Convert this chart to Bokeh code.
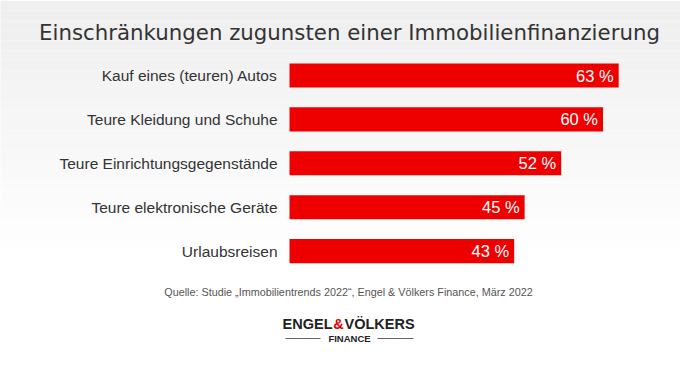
from bokeh.plotting import figure
from bokeh.models import Range1d, Label, BoxAnnotation, ColumnDataSource
from bokeh.core.properties import value
from bokeh.embed import file_html
from bokeh.resources import INLINE

# ---- data ----
categories = ["Kauf eines (teuren) Autos", "Teure Kleidung und Schuhe",
              "Teure Einrichtungsgegenstände", "Teure elektronische Geräte",
              "Urlaubsreisen"]
values = [63, 60, 52, 45, 43]
value_labels = [f"{v} %" for v in values]
positions = list(range(len(categories)))

title = "Einschränkungen zugunsten einer Immobilienfinanzierung"
source_note = "Quelle: Studie \u201eImmobilientrends 2022\u201c, Engel & Völkers Finance, März 2022"

# ---- layout helpers (picture px -> data) ----
W, H = 680, 349
PX_PER_PCT = 5.225
X0 = 289          # px where value 0 sits
ROW = 43.9
Y0 = 75           # px (from top) of first row centre

def xd(px):
    return (px - X0) / PX_PER_PCT

def yd(py):
    return (py - Y0) / ROW

p = figure(width=W, height=H, output_backend="svg", toolbar_location=None,
           x_range=Range1d(-X0 / PX_PER_PCT, (W - X0) / PX_PER_PCT),
           y_range=Range1d((H - Y0) / ROW, -Y0 / ROW),
           min_border=0, outline_line_color=None)
p.axis.visible = False
p.grid.visible = False
p.background_fill_color = "white"
p.border_fill_color = "white"

# soft grey-to-white background gradient
n = 26
for i in range(n):
    t = i / (n - 1)
    c = int(239 + (255 - 239) * t)
    col = "#%02x%02x%02x" % (c, c, c)
    p.add_layout(BoxAnnotation(left=xd(-10), right=xd(710),
                               top=yd(i * 10), bottom=yd(i * 10 + 10),
                               fill_color=col, fill_alpha=1, line_color=None,
                               level="underlay"))

src = ColumnDataSource(dict(pos=positions, value=values, cat=categories,
                            vlabel=value_labels))

p.hbar(y="pos", left=0, right="value", height=0.55, source=src,
       fill_color="#EE0000", line_color=None)

p.text(x=0, y="pos", text="cat", source=src, x_offset=-12,
       text_align="right", text_baseline="middle",
       text_font=value("Liberation Sans"), text_font_size="15.5px",
       text_color="#333333")

p.text(x="value", y="pos", text="vlabel", source=src, x_offset=-5,
       text_align="right", text_baseline="middle",
       text_font=value("Liberation Sans"), text_font_size="16.5px",
       text_color="white")

p.add_layout(Label(x=xd(349), y=yd(32), text=title, text_align="center",
                   text_baseline="middle", text_font="DejaVu Sans",
                   text_font_size="21.3px", text_color="#333333"))

p.add_layout(Label(x=xd(348), y=yd(291), text=source_note, text_align="center",
                   text_baseline="middle", text_font="Liberation Sans",
                   text_font_size="10.8px", text_color="#555555"))

# logo
p.add_layout(Label(x=xd(332), y=yd(323), text="ENGEL", text_align="right",
                   text_baseline="middle", text_font="Liberation Sans",
                   text_font_style="bold", text_font_size="14.5px",
                   text_color="#222222"))
p.add_layout(Label(x=xd(338), y=yd(323), text="&", text_align="center",
                   text_baseline="middle", text_font="Liberation Sans",
                   text_font_style="bold", text_font_size="14.5px",
                   text_color="#DD0000"))
p.add_layout(Label(x=xd(344), y=yd(323), text="VÖLKERS", text_align="left",
                   text_baseline="middle", text_font="Liberation Sans",
                   text_font_style="bold", text_font_size="14.5px",
                   text_color="#222222"))
p.add_layout(Label(x=xd(349), y=yd(338), text="FINANCE", text_align="center",
                   text_baseline="middle", text_font="Liberation Sans",
                   text_font_style="bold", text_font_size="9.5px",
                   text_color="#222222"))
for l, r in [(285, 320), (377, 413)]:
    p.add_layout(BoxAnnotation(left=xd(l), right=xd(r), top=yd(337.5),
                               bottom=yd(338.5), fill_color="#666666",
                               fill_alpha=1, line_color=None))

open("out.html", "w").write(file_html(p, INLINE))
